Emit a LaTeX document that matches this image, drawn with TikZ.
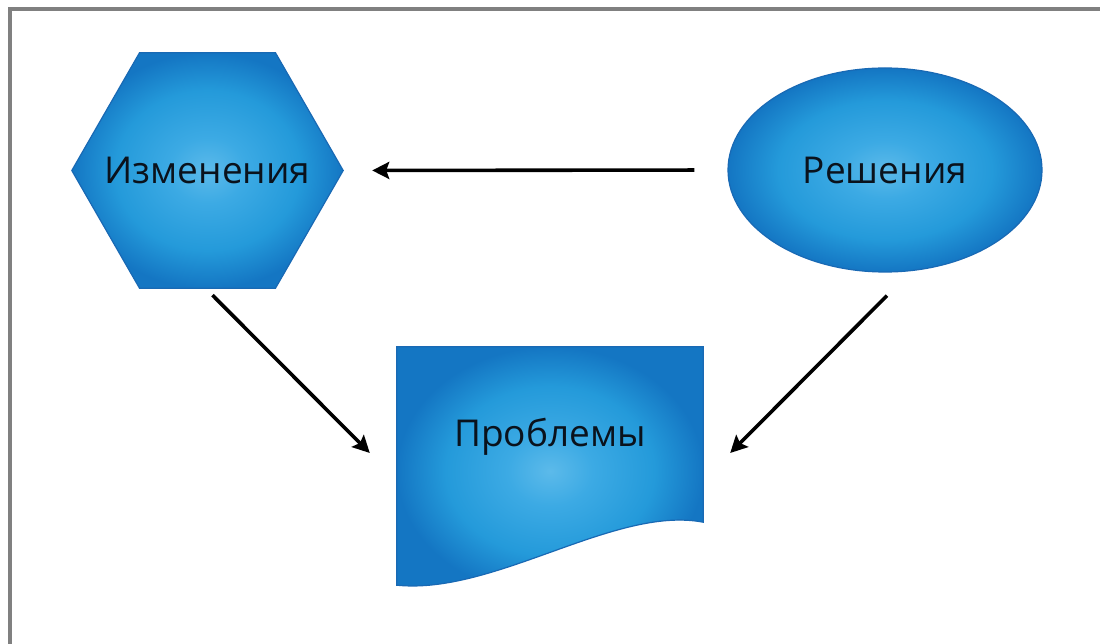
\documentclass[tikz,border=0pt]{standalone}
\usepackage{fontspec}
\setmainfont{Open Sans}
\usetikzlibrary{shapes.geometric,arrows.meta}

% blue fill: light centre, deeper edge
\definecolor{bcenter}{RGB}{92,186,234}
\definecolor{blight}{RGB}{60,170,228}
\definecolor{bmid}{RGB}{36,154,218}
\definecolor{bedge}{RGB}{20,118,195}
\definecolor{bline}{RGB}{25,105,180}
\definecolor{frame}{RGB}{128,128,128}
\definecolor{ink}{RGB}{10,18,28}
\pgfdeclareradialshading{blueglow}{\pgfpoint{0bp}{0bp}}{%
  color(0bp)=(bcenter); color(7bp)=(blight); color(17bp)=(bmid);
  color(25bp)=(bedge); color(50bp)=(bedge)}

\tikzset{
  shapefill/.style={shading=blueglow, draw=bline, line width=1.2pt},
  label/.style={inner sep=0pt, text=ink, font=\fontsize{37}{44}\selectfont},
  link/.style={line width=3.6pt, draw=black,
    -{Stealth[length=17pt,width=17pt,inset=3pt]}}
}

\begin{document}
\begin{tikzpicture}[x=1pt, y=-1pt]
  \useasboundingbox (0,0) rectangle (1100,644);

  % window edge along the top and left
  \draw[frame, line width=4pt] (10,644) -- (10,9) -- (1100,9);

  % hexagon
  \node[label, minimum width=271pt, minimum height=235pt]
        (chg) at (207.5,170.5) {};
  \shade[shapefill]
    (chg.west) -- ([xshift=-68]chg.north) -- ([xshift=68]chg.north)
    -- (chg.east) -- ([xshift=68]chg.south) -- ([xshift=-68]chg.south)
    -- cycle;
  \node[label] (chgtext) at (chg.center) {Изменения};

  % ellipse
  \node[label, ellipse, shapefill, minimum width=314pt, minimum height=204pt]
        (sol) at (885,170) {Решения};

  % document shape with wavy bottom
  \node[label, minimum width=306pt, minimum height=175pt]
        (doc) at (550,434.5) {};
  \shade[shapefill]
    (doc.north west) -- (doc.north east) -- (doc.south east)
    .. controls ([shift={(-88,-17)}]doc.south east)
             and ([shift={(98,73)}]doc.south west) ..
    ([shift={(0,63)}]doc.south west) -- cycle;
  \node[label] (doctext) at ([yshift=-2]doc.center) {Проблемы};

  % connectors
  \draw[link, shorten <=33pt, shorten >=29pt] (sol.west) -- (chg.east);
  \draw[link] ([shift={(5,7)}]chg.south) -- ([shift={(-27,18.5)}]doc.west);
  \draw[link] ([shift={(2,23)}]sol.south) -- ([shift={(27,18.5)}]doc.east);
\end{tikzpicture}
\end{document}
